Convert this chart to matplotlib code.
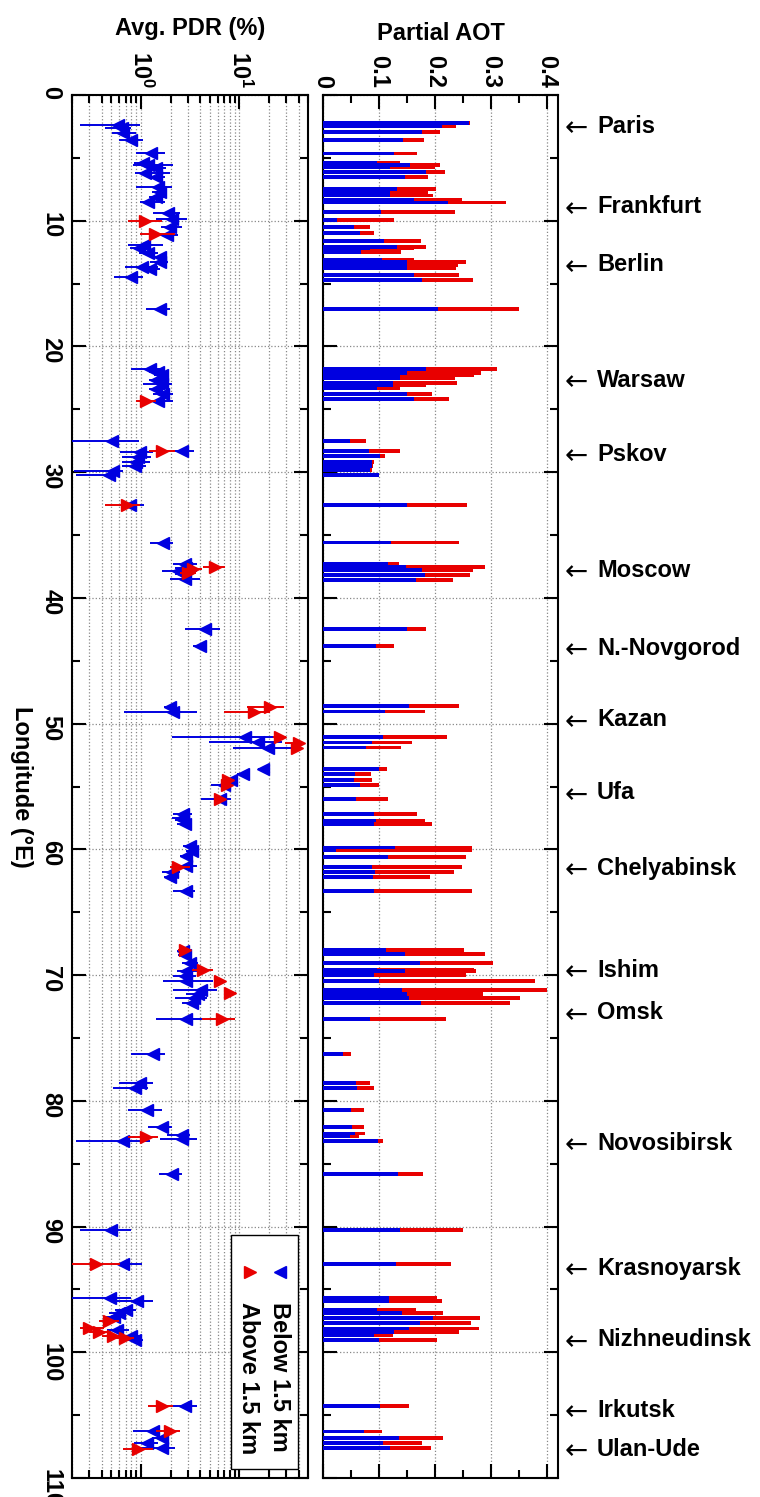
#
# PDR and partial AOT along the trans-Eurasian route (rotated layout)
#

import matplotlib
matplotlib.use("Agg")
import matplotlib.pyplot as plt
from matplotlib.ticker import MultipleLocator, LogLocator, NullFormatter, FuncFormatter
from matplotlib.patches import Rectangle
import numpy as np

plt.rcParams['font.family'] = ['Liberation Sans', 'DejaVu Sans']
plt.rcParams['font.weight'] = 'bold'
plt.rcParams['axes.labelweight'] = 'bold'
plt.rcParams['font.size'] = 17
plt.rcParams['mathtext.fontset'] = 'custom'
plt.rcParams['mathtext.bf'] = 'Liberation Sans:bold'
plt.rcParams['mathtext.rm'] = 'Liberation Sans:bold'

BLUE = '#0000e0'
RED = '#e80000'

# PDR below 1.5 km: longitude, value, error bar ends (%)
lon_below = [2.4, 2.65, 3.0, 3.6, 4.65, 5.4, 5.57, 5.83, 6.23, 6.5, 7.3, 7.7, 8.1, 8.5, 9.4, 9.9, 10.5,
             11.1, 11.95, 12.2, 12.6, 12.9, 13.3, 13.7, 13.8, 14.5, 17.0,
             21.77, 22.0, 22.3, 22.7, 23.0, 23.4, 23.8, 24.3,
             27.5, 28.3, 28.4, 28.8, 29.2, 29.5, 29.9, 30.2, 32.6, 35.6,
             37.3, 37.6, 37.85, 38.1, 38.5, 42.5, 43.8, 48.7, 49.04, 51.06, 51.5, 51.9, 53.6, 54.0,
             54.5, 54.9, 56.0,
             57.2, 57.5, 57.7, 58.0, 59.7, 60.1, 60.5, 61.3, 61.8, 62.2, 63.3,
             68.1, 68.4, 69.0, 69.7, 70.1, 70.5, 71.2, 71.5, 71.8, 72.2, 73.5,
             76.3, 78.6, 79.0, 80.7, 82.1, 82.7, 83.0, 83.2, 85.8, 90.3,
             92.95, 95.7, 95.9, 96.6, 96.9, 97.2, 98.2, 98.7, 99.0, 104.3, 106.3, 106.8, 107.2, 107.6]
pdr_below = [0.59, 0.64, 0.66, 0.80, 1.28, 1.05, 1.19, 1.44, 1.10, 1.44, 1.50, 1.55, 1.44, 1.19, 1.90, 2.05, 1.97,
             1.83, 1.08, 0.96, 1.19, 1.55, 1.55, 1.02, 1.25, 0.80, 1.56,
             1.24, 1.50, 1.62, 1.44, 1.62, 1.44, 1.69, 1.50,
             0.51, 2.59, 0.98, 0.94, 0.90, 0.87, 0.52, 0.47, 0.77, 1.69,
             2.8, 2.9, 2.4, 2.7, 2.8, 4.5, 3.98, 1.97, 2.13, 11.4, 15.6, 19.7, 17.5, 10.8,
             8.3, 6.9, 6.3,
             2.7, 2.6, 2.7, 2.8, 3.15, 3.3, 2.9, 2.9, 2.05, 1.97, 2.9,
             2.7, 2.8, 3.15, 2.9, 2.8, 2.9, 4.1, 3.8, 3.5, 3.3, 2.9,
             1.33, 0.98, 0.87, 1.16, 1.62, 2.6, 2.6, 0.66, 2.05, 0.50,
             0.66, 0.49, 0.92, 0.71, 0.60, 0.53, 0.57, 0.80, 0.87, 2.8, 1.33, 1.62, 1.16, 1.62]
lo_below = [0.24, 0.43, 0.51, 0.60, 0.90, 0.85, 0.83, 1.15, 0.87, 1.2, 0.90, 1.3, 1.2, 0.98, 1.33, 1.44, 1.6,
            1.5, 0.74, 0.78, 0.95, 1.3, 1.25, 0.69, 1.0, 0.54, 1.14,
            0.80, 1.2, 1.35, 1.2, 1.06, 1.2, 1.34, 1.34,
            0.2, 2.13, 0.61, 0.64, 0.64, 0.64, 0.21, 0.22, 0.61, 1.23,
            2.13, 2.2, 1.62, 2.2, 1.97, 2.8, 3.4, 1.7, 0.68, 2.05, 4.95, 8.55, 15.5, 9.5,
            7.5, 5.2, 4.1,
            2.13, 2.05, 2.2, 2.3, 2.7, 2.9, 2.5, 2.4, 1.62, 1.7, 2.13,
            2.3, 2.4, 2.6, 2.3, 2.1, 1.69, 2.13, 2.9, 2.22, 2.6, 1.44,
            0.79, 0.6, 0.52, 0.74, 1.19, 1.82, 1.56, 0.22, 1.54, 0.24,
            0.52, 0.2, 0.57, 0.55, 0.48, 0.42, 0.45, 0.62, 0.7, 2.13, 0.84, 1.3, 0.85, 0.9]
hi_below = [0.98, 0.80, 0.90, 1.04, 1.74, 1.30, 2.13, 1.80, 1.97, 1.75, 2.05, 1.85, 1.75, 1.75, 2.49, 2.92, 2.6,
            2.4, 1.69, 1.2, 1.5, 1.85, 1.9, 1.5, 1.55, 1.06, 1.97,
            1.56, 1.75, 1.9, 1.8, 2.05, 1.75, 2.13, 2.13,
            0.95, 3.49, 1.34, 1.28, 1.23, 1.14, 0.66, 0.61, 1.07, 2.13,
            3.68, 3.6, 3.68, 3.3, 3.98, 6.35, 4.6, 2.3, 3.68, 22.2, 26.9, 35.4, 19.5, 12.0,
            9.2, 8.7, 8.3,
            3.27, 3.15, 3.2, 3.3, 3.6, 3.8, 3.3, 3.7, 2.5, 2.35, 3.54,
            3.2, 3.3, 3.8, 3.7, 3.6, 5.4, 5.9, 4.8, 4.65, 4.0, 4.14,
            1.75, 1.34, 1.19, 1.62, 2.05, 3.15, 3.68, 1.23, 2.59, 0.79,
            1.02, 0.8, 1.34, 0.9, 0.75, 0.68, 0.75, 1.0, 1.05, 3.68, 1.62, 1.95, 1.5, 2.2]

# PDR above 1.5 km
lon_above = [10.0, 11.05, 24.3, 28.3, 32.6, 37.57, 37.7, 38.0, 48.7, 49.1, 51.06, 51.55, 51.9,
             54.5, 54.9, 56.0, 61.4, 68.0, 69.6, 70.5, 71.4, 73.5, 82.9,
             92.95, 97.5, 98.1, 98.4, 98.7, 98.9, 104.3, 106.3, 107.7]
pdr_above = [1.1, 1.4, 1.14, 1.62, 0.73, 5.6, 3.4, 3.0, 20.5, 13.9, 25.5, 39.8, 38.3,
             7.7, 7.4, 6.3, 2.4, 2.8, 4.3, 6.3, 8.0, 6.6, 1.14,
             0.35, 0.48, 0.3, 0.38, 0.52, 0.69, 1.62, 1.97, 0.94]
lo_above = [0.74, 0.98, 0.9, 1.2, 0.43, 4.3, 2.8, 2.5, 11.9, 6.9, 22.0, 29.0, 33.0,
            6.8, 6.5, 5.5, 1.97, 2.4, 3.27, 5.5, 7.0, 4.14, 0.74,
            0.2, 0.38, 0.24, 0.3, 0.4, 0.55, 1.17, 1.44, 0.66]
hi_above = [1.62, 2.22, 1.44, 2.2, 0.98, 7.2, 4.2, 3.6, 28.0, 20.5, 30.0, 43.0, 43.0,
            8.8, 8.3, 7.2, 3.15, 3.2, 5.43, 7.2, 9.3, 9.04, 1.5,
            0.61, 0.6, 0.42, 0.5, 0.65, 0.85, 2.13, 2.49, 1.34]

# partial AOT: below 1.5 km and total column
lon_aot = [2.2, 2.5, 2.97, 3.6, 4.65, 5.36, 5.55, 5.7, 6.1, 6.55, 7.46, 7.78, 8.0, 8.36, 8.55, 9.32, 9.93,
           10.5, 11.0, 11.6, 12.1, 12.2, 12.5, 13.1, 13.3, 13.5, 13.8, 14.3, 14.7, 17.0,
           21.77, 22.1, 22.3, 22.5, 22.9, 23.1, 23.3, 23.76, 24.2,
           27.5, 28.3, 28.7, 29.2, 29.5, 29.8, 30.2, 32.6, 35.6,
           37.3, 37.57, 37.8, 38.15, 38.6, 42.5, 43.8, 48.6, 49.04, 51.06, 51.5, 51.9,
           53.6, 54.0, 54.5, 54.9, 56.0, 57.2, 57.7, 57.96, 59.85, 60.05, 60.6, 61.4, 61.8, 62.2, 63.3,
           68.0, 68.3, 69.04, 69.55, 69.7, 70.0, 70.5, 71.2, 71.5, 71.8, 72.2, 73.5,
           76.3, 78.6, 79.0, 80.7, 82.1, 82.6, 82.8, 83.2, 85.8, 90.3,
           92.95, 95.7, 95.9, 96.6, 96.9, 97.3, 97.7, 98.1, 98.4, 98.6, 99.0,
           104.3, 106.3, 106.8, 107.2, 107.6]
aot_below = [0.26, 0.213, 0.177, 0.144, 0.128, 0.097, 0.155, 0.12, 0.185, 0.147, 0.132, 0.12, 0.12, 0.162, 0.224,
             0.104, 0.025,
             0.055, 0.066, 0.11, 0.132, 0.085, 0.068, 0.105, 0.15, 0.15, 0.15, 0.162, 0.177, 0.206,
             0.184, 0.15, 0.138, 0.138, 0.126, 0.126, 0.097, 0.15, 0.162,
             0.048, 0.082, 0.1025, 0.088, 0.088, 0.085, 0.1, 0.15, 0.122,
             0.116, 0.149, 0.177, 0.183, 0.167, 0.15, 0.095, 0.154, 0.111, 0.108, 0.088, 0.078,
             0.1, 0.058, 0.055, 0.066, 0.06, 0.092, 0.095, 0.092, 0.129, 0.024, 0.117, 0.088, 0.094, 0.089, 0.091,
             0.113, 0.146, 0.174, 0.097, 0.146, 0.091, 0.1, 0.141, 0.15, 0.154, 0.175, 0.085,
             0.037, 0.06, 0.061, 0.051, 0.053, 0.058, 0.049, 0.098, 0.135, 0.138,
             0.131, 0.119, 0.119, 0.097, 0.142, 0.197, 0.174, 0.154, 0.128, 0.091, 0.1,
             0.102, 0.073, 0.136, 0.108, 0.12]
aot_total = [0.262, 0.237, 0.209, 0.18, 0.168, 0.138, 0.21, 0.2, 0.218, 0.187, 0.202, 0.188, 0.197, 0.248, 0.327,
             0.235, 0.128,
             0.085, 0.092, 0.175, 0.184, 0.162, 0.14, 0.162, 0.255, 0.242, 0.238, 0.243, 0.268, 0.35,
             0.31, 0.283, 0.27, 0.236, 0.239, 0.185, 0.138, 0.194, 0.226,
             0.078, 0.138, 0.111, 0.091, 0.0895, 0.088, 0.101, 0.258, 0.243,
             0.136, 0.289, 0.268, 0.262, 0.232, 0.184, 0.127, 0.243, 0.183, 0.222, 0.159, 0.139,
             0.114, 0.086, 0.088, 0.1, 0.116, 0.168, 0.183, 0.194, 0.266, 0.267, 0.255, 0.249, 0.234, 0.191, 0.267,
             0.252, 0.289, 0.304, 0.27, 0.273, 0.255, 0.378, 0.399, 0.286, 0.351, 0.334, 0.22,
             0.05, 0.085, 0.092, 0.074, 0.073, 0.076, 0.064, 0.107, 0.178, 0.251,
             0.228, 0.203, 0.213, 0.166, 0.215, 0.281, 0.264, 0.279, 0.243, 0.126, 0.203,
             0.154, 0.105, 0.215, 0.177, 0.193]

cities = ['Paris', 'Frankfurt', 'Berlin', 'Warsaw', 'Pskov', 'Moscow', 'N.-Novgorod', 'Kazan', 'Ufa',
          'Chelyabinsk', 'Ishim', 'Omsk', 'Novosibirsk', 'Krasnoyarsk', 'Nizhneudinsk', 'Irkutsk', 'Ulan-Ude']
city_lon = [2.5, 8.9, 13.5, 22.7, 28.6, 37.8, 44.0, 49.7, 55.5, 61.5, 69.6, 73.0, 83.4, 93.3, 99.0, 104.6, 107.7]

fig = plt.figure(figsize=(7.6, 14.97), dpi=100)
ax1 = fig.add_axes([0.0947, 0.01269, 0.311, 0.92385])
ax2 = fig.add_axes([0.4246, 0.01269, 0.310, 0.92385], sharey=ax1)

# left panel: PDR, log scale
ax1.set_xscale('log')
xerr_b = [np.array(pdr_below) - np.array(lo_below), np.array(hi_below) - np.array(pdr_below)]
xerr_a = [np.array(pdr_above) - np.array(lo_above), np.array(hi_above) - np.array(pdr_above)]
ax1.errorbar(pdr_below, lon_below, xerr=xerr_b, fmt='<', color=BLUE, ms=9, elinewidth=1.4,
             capsize=0, zorder=3)
ax1.errorbar(pdr_above, lon_above, xerr=xerr_a, fmt='>', color=RED, ms=9, elinewidth=1.4,
             capsize=0, zorder=4)
ax1.set_xlim(0.2, 50)
ax1.set_ylim(110, 0)
ax1.xaxis.set_major_locator(LogLocator(base=10))
ax1.xaxis.set_minor_locator(LogLocator(base=10, subs=np.arange(2, 10)))
ax1.xaxis.set_minor_formatter(NullFormatter())
ax1.xaxis.set_major_formatter(FuncFormatter(lambda v, p: r'$\mathbf{10^{%d}}$' % round(np.log10(v))))
ax1.yaxis.set_major_locator(MultipleLocator(10))
ax1.yaxis.set_minor_locator(MultipleLocator(5))
ax1.grid(True, which='both', axis='x', ls=':', color='#888888', lw=0.9)
ax1.grid(True, which='major', axis='y', ls=':', color='#888888', lw=0.9)

# legend box, drawn by hand because the text is rotated
ax1.add_patch(Rectangle((0.673, 0.0065), 0.283, 0.169, transform=ax1.transAxes,
                        facecolor='white', edgecolor='black', lw=1.0, zorder=5))
ax1.plot([0.880], [0.149], '<', color=BLUE, ms=9, transform=ax1.transAxes, zorder=6)
ax1.plot([0.753], [0.149], '>', color=RED, ms=9, transform=ax1.transAxes, zorder=6)
ax1.text(0.876, 0.127, 'Below 1.5 km', rotation=-90, ha='center', va='top',
         transform=ax1.transAxes, zorder=6)
ax1.text(0.745, 0.127, 'Above 1.5 km', rotation=-90, ha='center', va='top',
         transform=ax1.transAxes, zorder=6)

# right panel: partial AOT
ax2.barh(lon_aot, aot_total, height=0.3, color=RED, lw=0, zorder=3)
ax2.barh(lon_aot, aot_below, height=0.3, color=BLUE, lw=0, zorder=3)
ax2.set_xlim(0, 0.42)
ax2.xaxis.set_major_locator(MultipleLocator(0.1))
ax2.xaxis.set_minor_locator(MultipleLocator(0.05))
ax2.xaxis.set_major_formatter(FuncFormatter(lambda v, p: '0' if abs(v) < 1e-9 else '%.1f' % v))
ax2.grid(True, which='major', axis='both', ls=':', color='#888888', lw=0.9)

for ax in (ax1, ax2):
    ax.set_axisbelow(True)
    ax.tick_params(which='both', direction='in', top=True, bottom=True, left=True, right=True,
                   labeltop=True, labelbottom=False, width=1.5)
    ax.tick_params(which='major', length=10)
    ax.tick_params(which='minor', length=5.5)
    ax.tick_params(axis='x', labelrotation=-90, pad=5)
    for s in ax.spines.values():
        s.set_linewidth(1.5)
    ax.xaxis.set_label_position('top')

ax1.tick_params(axis='y', labelrotation=-90, pad=7)
ax2.tick_params(axis='y', labelleft=False)

ax1.set_xlabel('Avg. PDR (%)')
ax1.xaxis.set_label_coords(0.5, 1.0484)
ax1.xaxis.label.set_verticalalignment('center')
ax2.set_xlabel('Partial AOT')
ax2.xaxis.set_label_coords(0.5, 1.0448)
ax2.xaxis.label.set_verticalalignment('center')
ax1.set_ylabel('Longitude (°E)', rotation=-90)
ax1.yaxis.set_label_coords(-0.212, 0.5)
ax1.yaxis.label.set_verticalalignment('center')

# city markers to the right of the AOT panel
trans = ax2.get_yaxis_transform()
for name, lon in zip(cities, city_lon):
    ax2.text(1.026, lon + 0.15, '\u2190', transform=trans, ha='left', va='center',
             family='DejaVu Sans', fontweight='normal', fontsize=20)
    ax2.text(1.164, lon, name, transform=trans, ha='left', va='center')

fig.savefig('out.png', dpi=100)
